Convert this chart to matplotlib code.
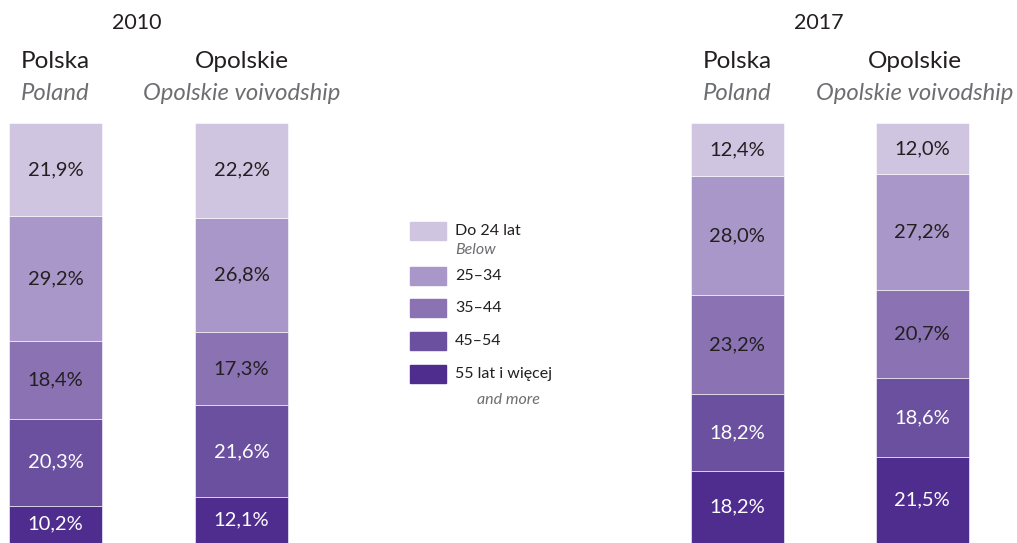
import matplotlib
matplotlib.use("Agg")
import matplotlib.pyplot as plt
from matplotlib.patches import Rectangle

plt.rcParams['font.family'] = ['Lato', 'DejaVu Sans']

# dane
grupy = ['Do 24 lat', '25–34', '35–44', '45–54', '55 lat i więcej']
grupy_en = ['Below', '', '', '', 'and more']
kolory = ['#cfc5e1', '#a897c8', '#8a72b3', '#6a509f', '#4f2d8e']
kolor_tekstu = ['#231f20', '#231f20', '#231f20', 'white', 'white']

lata = ['2010', '2017']
regiony = ['Polska', 'Opolskie']
regiony_en = ['Poland', 'Opolskie voivodship']

# kolejnosc: Do 24 lat ... 55 lat i wiecej
polska_2010 = [21.9, 29.2, 18.4, 20.3, 10.2]
opolskie_2010 = [22.2, 26.8, 17.3, 21.6, 12.1]
polska_2017 = [12.4, 28.0, 23.2, 18.2, 18.2]
opolskie_2017 = [12.0, 27.2, 20.7, 18.6, 21.5]

W, H = 1017, 543
fig = plt.figure(figsize=(W / 100, H / 100), dpi=100)
ax = fig.add_axes([0, 0, 1, 1])
ax.set_xlim(0, W)
ax.set_ylim(1.4, 128.9)
ax.axis('off')

kolumny = [(55.5, polska_2010), (241.5, opolskie_2010),
           (737, polska_2017), (922, opolskie_2017)]

for x, wartosci in kolumny:
    dol = 0
    # od dolu: najstarsza grupa
    for i in range(len(wartosci) - 1, -1, -1):
        v = wartosci[i]
        ax.bar(x, v, width=93, bottom=dol, color=kolory[i],
               edgecolor='#ffffff', linewidth=0.4)
        srodek = dol + v / 2
        if i == len(wartosci) - 1:
            srodek = dol + v / 2 + 0.7
        ax.text(x, srodek, f'{v:.1f}%'.replace('.', ','), ha='center', va='center',
                fontsize=14.5, color=kolor_tekstu[i])
        dol += v

def px(x, y):
    return x / W, 1 - y / H

# naglowki
for rok, xr in zip(lata, [137, 819]):
    fig.text(*px(xr, 23), rok, ha='center', va='center', fontsize=15.5, color='#231f20')
for xs in [(55.5, 242), (737, 915)]:
    for xc, pl, en in zip(xs, regiony, regiony_en):
        fig.text(*px(xc, 62), pl, ha='center', va='center', fontsize=17.5, color='#231f20')
        fig.text(*px(xc, 93), en, ha='center', va='center', fontsize=17.2,
                 style='italic', color='#6d6e71')

# legenda
ys = [231, 276, 308, 341, 374]
for i, y in enumerate(ys):
    fig.patches.append(Rectangle(px(410, y + 9), 36 / W, 18 / H, transform=fig.transFigure,
                                 color=kolory[i]))
    fig.text(*px(455, y), grupy[i], ha='left', va='center', fontsize=11.5, color='#231f20')
fig.text(*px(455, 250), grupy_en[0], ha='left', va='center', fontsize=11.5,
         style='italic', color='#6d6e71')
fig.text(*px(540, 400), grupy_en[4], ha='right', va='center', fontsize=11.5,
         style='italic', color='#6d6e71')

fig.savefig('out.png', dpi=100)
